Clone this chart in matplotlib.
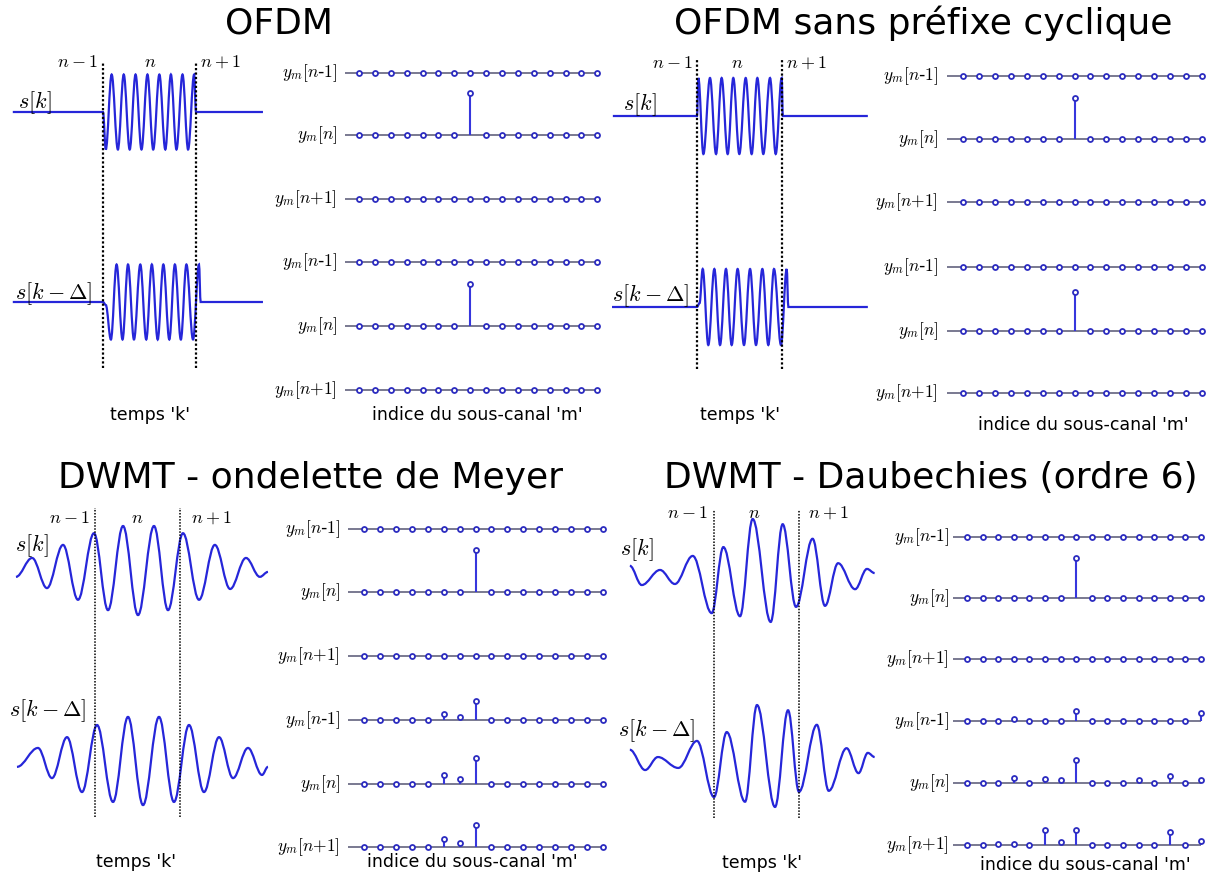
import numpy as np
import matplotlib.pyplot as plt
from matplotlib.path import Path
from matplotlib.patches import PathPatch

plt.rcParams['mathtext.fontset'] = 'cm'
plt.rcParams['font.family'] = ['DejaVu Sans']

#------------------------------------------------
# data
# waveforms: extrema (t, value), t in symbol durations (0 = start of symbol n)

titles = ['OFDM', 'OFDM sans préfixe cyclique',
          'DWMT - ondelette de Meyer', 'DWMT - Daubechies (ordre 6)']

ofdm_t = [-0.97, 0.0, 0.03, 0.093, 0.16, 0.223, 0.287, 0.35, 0.414, 0.478, 0.54,
          0.606, 0.67, 0.73, 0.79, 0.855, 0.915, 0.98, 1.0, 1.72]
ofdm_v = [0, 0, -1, 1, -1, 1, -1, 1, -1, 1, -1, 1, -1, 1, -1, 1, -1, 1, 0, 0]
ofdm_d_t = [-0.97, 0.0, 0.03, 0.085, 0.146, 0.21, 0.269, 0.333, 0.401, 0.465, 0.525,
            0.588, 0.649, 0.713, 0.773, 0.837, 0.897, 0.968, 1.032, 1.05, 1.72]
ofdm_d_v = [0, 0, -0.08, -1, 1, -1, 1, -1, 1, -1, 1, -1, 1, -1, 1, -1, 1, -1, 1, 0, 0]

nocp_t = [-0.99, 0.0, 0.016, 0.075, 0.153, 0.224, 0.29, 0.361, 0.427, 0.498, 0.573,
          0.643, 0.71, 0.78, 0.859, 0.926, 0.996, 1.01, 2.01]
nocp_v = [0, 0, 1, -1, 1, -1, 1, -1, 1, -1, 1, -1, 1, -1, 1, -1, 1, 0, 0]
nocp_d_t = [-1.0, 0.0, 0.03, 0.067, 0.133, 0.204, 0.271, 0.341, 0.408, 0.478, 0.553,
            0.624, 0.694, 0.769, 0.839, 0.906, 0.988, 1.055, 1.075, 2.01]
nocp_d_v = [0, 0, 0.1, 1, -1, 1, -1, 1, -1, 1, -1, 1, -1, 1, -1, 1, -1, 1, 0, 0]

meyer_t = [-0.93, -0.74, -0.565, -0.376, -0.2, -0.012, 0.153, 0.33, 0.506, 0.694,
           0.859, 1.035, 1.224, 1.41, 1.59, 1.776, 1.94, 2.035]
meyer_v = [-0.13, 0.29, -0.38, 0.58, -0.64, 0.84, -0.87, 1.0, -0.98, 1.0,
           -0.87, 0.84, -0.64, 0.58, -0.4, 0.29, -0.13, -0.02]
meyer_d_t = [-0.918, -0.671, -0.506, -0.329, -0.153, 0.024, 0.212, 0.388, 0.565, 0.753,
             0.929, 1.106, 1.282, 1.459, 1.624, 1.8, 1.965, 2.035]
meyer_d_v = [-0.13, 0.29, -0.38, 0.53, -0.69, 0.8, -0.91, 0.98, -0.98, 0.98,
             -0.91, 0.8, -0.69, 0.53, -0.38, 0.29, -0.31, -0.13]

daub_t = [-0.99, -0.85, -0.635, -0.46, -0.25, -0.027, 0.11, 0.306, 0.455, 0.667,
          0.808, 0.965, 1.16, 1.306, 1.46, 1.66, 1.8, 1.89]
daub_v = [0.1, -0.27, 0.02, -0.25, 0.29, -0.81, 0.46, -0.87, 1.0, -0.98,
          0.9, -0.69, 0.62, -0.67, 0.15, -0.35, 0.04, -0.04]
daub_d_t = [-0.99, -0.81, -0.66, -0.42, -0.2, 0.0, 0.15, 0.365, 0.506, 0.718,
            0.871, 1.0, 1.21, 1.35, 1.56, 1.7, 1.81, 1.89]
daub_d_v = [0.12, -0.27, -0.02, -0.23, 0.29, -0.79, 0.46, -0.88, 0.98, -0.98,
            0.88, -0.69, 0.6, -0.67, 0.15, -0.33, 0.06, -0.02]

# sub-channel outputs y_m, one list of 16 values per row
subchannels = np.arange(16)
row_labels = [r'$y_m[n$-$1]$', r'$y_m[n]$', r'$y_m[n{+}1]$',
              r'$y_m[n$-$1]$', r'$y_m[n]$', r'$y_m[n{+}1]$']

ofdm_y = [
    [0, 0, 0, 0, 0, 0, 0, 0, 0, 0, 0, 0, 0, 0, 0, 0],
    [0, 0, 0, 0, 0, 0, 0, 1, 0, 0, 0, 0, 0, 0, 0, 0],
    [0, 0, 0, 0, 0, 0, 0, 0, 0, 0, 0, 0, 0, 0, 0, 0],
    [0, 0, 0, 0, 0, 0, 0, 0, 0, 0, 0, 0, 0, 0, 0, 0],
    [0, 0, 0, 0, 0, 0, 0, 1, 0, 0, 0, 0, 0, 0, 0, 0],
    [0, 0, 0, 0, 0, 0, 0, 0, 0, 0, 0, 0, 0, 0, 0, 0],
]
nocp_y = [
    [0, 0, 0, 0, 0, 0, 0, 0, 0, 0, 0, 0, 0, 0, 0, 0],
    [0, 0, 0, 0, 0, 0, 0, 1, 0, 0, 0, 0, 0, 0, 0, 0],
    [0, 0, 0, 0, 0, 0, 0, 0, 0, 0, 0, 0, 0, 0, 0, 0],
    [0, 0, 0, 0, 0, 0, 0, 0, 0, 0, 0, 0, 0, 0, 0, 0],
    [0, 0, 0, 0, 0, 0, 0, 0.95, 0, 0, 0, 0, 0, 0, 0, 0],
    [0, 0, 0, 0, 0, 0, 0, 0, 0, 0, 0, 0, 0, 0, 0, 0],
]
meyer_y = [
    [0, 0, 0, 0, 0, 0, 0, 0, 0, 0, 0, 0, 0, 0, 0, 0],
    [0, 0, 0, 0, 0, 0, 0, 1, 0, 0, 0, 0, 0, 0, 0, 0],
    [0, 0, 0, 0, 0, 0, 0, 0, 0, 0, 0, 0, 0, 0, 0, 0],
    [0, 0, 0, 0, 0, 0.14, 0.07, 0.45, 0, 0, 0, 0, 0, 0, 0, 0],
    [0, 0, 0, 0, 0, 0.21, 0.12, 0.62, 0, 0, 0, 0, 0, 0, 0, 0],
    [0, 0, 0, 0, 0, 0.19, 0.10, 0.52, 0, 0, 0, 0, 0, 0, 0, 0],
]
daub_y = [
    [0, 0, 0, 0, 0, 0, 0, 0, 0, 0, 0, 0, 0, 0, 0, 0],
    [0, 0, 0, 0, 0, 0, 0, 1, 0, 0, 0, 0, 0, 0, 0, 0],
    [0, 0, 0, 0, 0, 0, 0, 0, 0, 0, 0, 0, 0, 0, 0, 0],
    [0, 0, 0, 0.05, 0, 0, 0, 0.25, 0, 0, 0, 0, 0, 0, 0, 0.2],
    [0, 0, 0, 0.12, 0, 0.1, 0.08, 0.57, 0, 0, 0, 0.07, 0, 0.17, 0, 0.07],
    [0, 0, 0.03, 0.03, 0, 0.38, 0.08, 0.38, 0, 0, 0, 0, 0, 0.33, 0, 0.1],
]

#------------------------------------------------

W, H = 1210, 875
WAVE = '#2626d9'
STEM = '#3636dd'
MARK = '#2c2cc0'
BASE = '#62627e'

fig = plt.figure(figsize=(W / 100, H / 100), dpi=100)


def make_axes(box, origin, scale):
    # box in pixels (left, top, right, bottom), origin = pixel of data (0,0)
    l, t, r, b = box
    ax = fig.add_axes([l / W, 1 - b / H, (r - l) / W, (b - t) / H])
    ox, oy = origin
    sx, sy = scale
    ax.set_xlim((l - ox) / sx, (r - ox) / sx)
    ax.set_ylim((oy - b) / sy, (oy - t) / sy)
    ax.axis('off')
    return ax


def ftext(x, y, s, **kw):
    fig.text(x / W, 1 - y / H, s, **kw)


def smooth_path(t, v, off):
    verts = [(t[0], v[0] + off)]
    codes = [Path.MOVETO]
    for i in range(len(t) - 1):
        d = (t[i + 1] - t[i]) * 0.363
        verts += [(t[i] + d, v[i] + off), (t[i + 1] - d, v[i + 1] + off), (t[i + 1], v[i + 1] + off)]
        codes += [Path.CURVE4] * 3
    return Path(verts, codes)


def wave_panel(box, b0, b1, c1, c2, amp, sig, sig_d, dash, lw_dash, nlab, slab, tlab):
    ax = make_axes(box, (b0, c1), (b1 - b0, amp))
    off = -(c2 - c1) / amp
    ax.add_patch(PathPatch(smooth_path(sig[0], sig[1], 0), fill=False, ec=WAVE, lw=1.6))
    ax.add_patch(PathPatch(smooth_path(sig_d[0], sig_d[1], off), fill=False, ec=WAVE, lw=1.6))
    ax.vlines([0, 1], (c1 - dash[1]) / amp, (c1 - dash[0]) / amp, colors='k',
              linestyles=(0, (1, 1)), lw=lw_dash)
    ny, xl, xm, xr = nlab
    ftext(xl, ny, r'$n-1$', ha='right', va='center', fontsize=13)
    ftext(xm, ny, r'$n$', ha='center', va='center', fontsize=13)
    ftext(xr, ny, r'$n+1$', ha='left', va='center', fontsize=13)
    ftext(slab[0], slab[1], r'$s[k]$', ha='left', va='center', fontsize=16)
    ftext(slab[2], slab[3], r'$s[k-\Delta]$', ha='left', va='center', fontsize=16)
    ftext(tlab[0], tlab[1], "temps 'k'", ha='center', va='center', fontsize=12.5)


def stem_panel(box, m0, m15, rows_px, unit, line_start, lab_right, values, xlab):
    dx = (m15 - m0) / 15
    ax = make_axes(box, (m0, rows_px[0]), (dx, unit))
    x_start = (line_start - m0) / dx
    x_lab = (lab_right - m0) / dx
    for r, vals in enumerate(values):
        vals = np.array(vals, dtype=float)
        base = (rows_px[0] - rows_px[r]) / unit
        ax.hlines(base, x_start, 15, colors=BASE, lw=1.2, zorder=1)
        nz = vals != 0
        ax.vlines(subchannels[nz], base, base + vals[nz], colors=STEM, lw=1.5, zorder=2)
        ax.plot(subchannels, base + vals, 'o', ms=3.6, mfc='white', mec=MARK, mew=1.3,
                zorder=3, clip_on=False)
        ax.text(x_lab, base, row_labels[r], ha='right', va='center', fontsize=12.5)
    ftext(xlab[0], xlab[1], "indice du sous-canal 'm'", ha='center', va='center', fontsize=12.5)


# OFDM
ftext(279, 23, titles[0], ha='center', va='center', fontsize=26)
wave_panel((5, 45, 272, 385), 103, 196, 112, 302, 37.5,
           (ofdm_t, ofdm_v), (ofdm_d_t, ofdm_d_v), (62, 368), 1.6,
           (62, 98, 150, 200), (18, 103, 15, 294), (150, 415))
stem_panel((265, 40, 610, 405), 359, 597.3, [72.7, 135, 199, 262.3, 326, 390], 42,
           345, 337, ofdm_y, (477, 415))

# OFDM sans prefixe cyclique
ftext(923, 23, titles[1], ha='center', va='center', fontsize=26)
wave_panel((605, 45, 875, 385), 697, 782, 116, 307, 38,
           (nocp_t, nocp_v), (nocp_d_t, nocp_d_v), (60, 369), 1.6,
           (63, 693, 737, 786), (623, 105, 612, 296), (740, 415))
stem_panel((870, 40, 1209, 410), 963, 1202, [76, 139, 202, 267, 331, 393], 41,
           947, 938, nocp_y, (1083, 425))

# DWMT Meyer
ftext(311, 478, titles[2], ha='center', va='center', fontsize=26)
wave_panel((5, 495, 275, 830), 95, 180, 571, 761, 45,
           (meyer_t, meyer_v), (meyer_d_t, meyer_d_v), (508, 817), 1.1,
           (518, 90, 137, 191), (15, 546, 9, 711), (136, 862))
stem_panel((265, 495, 612, 870), 364, 603, [529, 592, 656, 720, 784, 847], 42,
           348, 340, meyer_y, (472, 862))

# DWMT Daubechies
ftext(931, 478, titles[3], ha='center', va='center', fontsize=26)
wave_panel((612, 495, 885, 830), 714, 799, 571, 756, 52,
           (daub_t, daub_v), (daub_d_t, daub_d_v), (510, 818), 1.1,
           (513, 708, 754, 808), (620, 550, 618, 731), (762, 863))
stem_panel((870, 495, 1209, 870), 967, 1201, [537, 598, 659, 721, 783, 845], 40,
           953, 949, daub_y, (1085, 865))

fig.savefig('out.png', dpi=100)
